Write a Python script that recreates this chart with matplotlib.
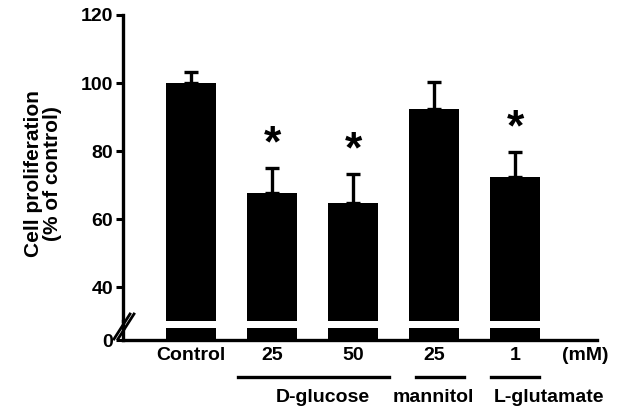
import matplotlib
matplotlib.use('Agg')
import matplotlib.pyplot as plt
import matplotlib.transforms as mtransforms
from matplotlib.lines import Line2D

plt.rcParams['font.family'] = ['Liberation Sans', 'DejaVu Sans']
plt.rcParams['font.weight'] = 'bold'

# data
labels = ['Control', '25', '50', '25', '1']
values = [100, 67.5, 64.7, 92.3, 72.3]
errors = [3.3, 7.5, 8.6, 8.0, 7.4]
signif = [False, True, True, False, True]
groups = ['D-glucose', 'mannitol', 'L-glutamate']
group_spans = [(0.58, 2.44), (2.78, 3.37), (3.70, 4.30)]
yticks_top = [40, 60, 80, 100, 120]

W, H = 621, 411
fig = plt.figure(figsize=(W / 100, H / 100), dpi=100)

def fx(px):
    return px / W

def fy(py):
    return 1 - py / H

left, right = fx(123), fx(597)
ax_top = fig.add_axes([left, fy(321), right - left, fy(15) - fy(321)])
ax_bot = fig.add_axes([left, fy(340), right - left, fy(328) - fy(340)])

x = list(range(len(labels)))
xlim = (-0.84, 5.01)

for ax in (ax_top, ax_bot):
    ax.bar(x, values, width=0.62, color='black')
    ax.set_xlim(*xlim)
    ax.spines['top'].set_visible(False)
    ax.spines['right'].set_visible(False)
    ax.spines['left'].set_linewidth(2.4)
    ax.tick_params(axis='y', direction='out', length=5, width=2.2, labelsize=14, pad=2)
    ax.set_xticks([])

ax_top.errorbar(x, values, yerr=[[0] * len(x), errors], fmt='none', ecolor='black',
                elinewidth=2.4, capsize=4.7, capthick=2.4)
ax_top.set_ylim(30, 120)
ax_top.set_yticks(yticks_top)
ax_top.spines['bottom'].set_visible(False)

ax_bot.set_ylim(0, 3.5)
ax_bot.set_yticks([0])
ax_bot.spines['bottom'].set_linewidth(2.4)

for xi, v, e, s in zip(x, values, errors, signif):
    if s:
        ax_top.text(xi, v + e + 0.8, '*', ha='center', va='bottom', fontsize=32,
                    fontweight='bold')

# fill the spine gap and draw break marks
fig.add_artist(Line2D([left, left], [fy(321), fy(328)], color='black', lw=2.4))
for dx in (0, 4):
    fig.add_artist(Line2D([fx(114 + dx), fx(130 + dx)], [fy(339), fy(314)],
                          color='black', lw=2))

fig.text(fx(43), (fy(15) + fy(340)) / 2 + 0.01, 'Cell proliferation\n(% of control)',
         rotation=90, ha='center', va='center', fontsize=15, linespacing=1.05)

trans = mtransforms.blended_transform_factory(ax_bot.transData, fig.transFigure)
for xi, lab in zip(x, labels):
    ax_bot.text(xi, fy(355), lab, transform=trans, ha='center', va='center', fontsize=14)
ax_bot.text(4.86, fy(355), '(mM)', transform=trans, ha='center', va='center', fontsize=14)

group_centers = [1.62, 2.99, 4.42]
for (x0, x1), g, gc in zip(group_spans, groups, group_centers):
    fig.add_artist(Line2D([x0, x1], [fy(377), fy(377)], color='black', lw=2.4,
                          transform=trans))
    ax_bot.text(gc, fy(397), g, transform=trans, ha='center', va='center', fontsize=14)

fig.savefig('out.png', dpi=100)
